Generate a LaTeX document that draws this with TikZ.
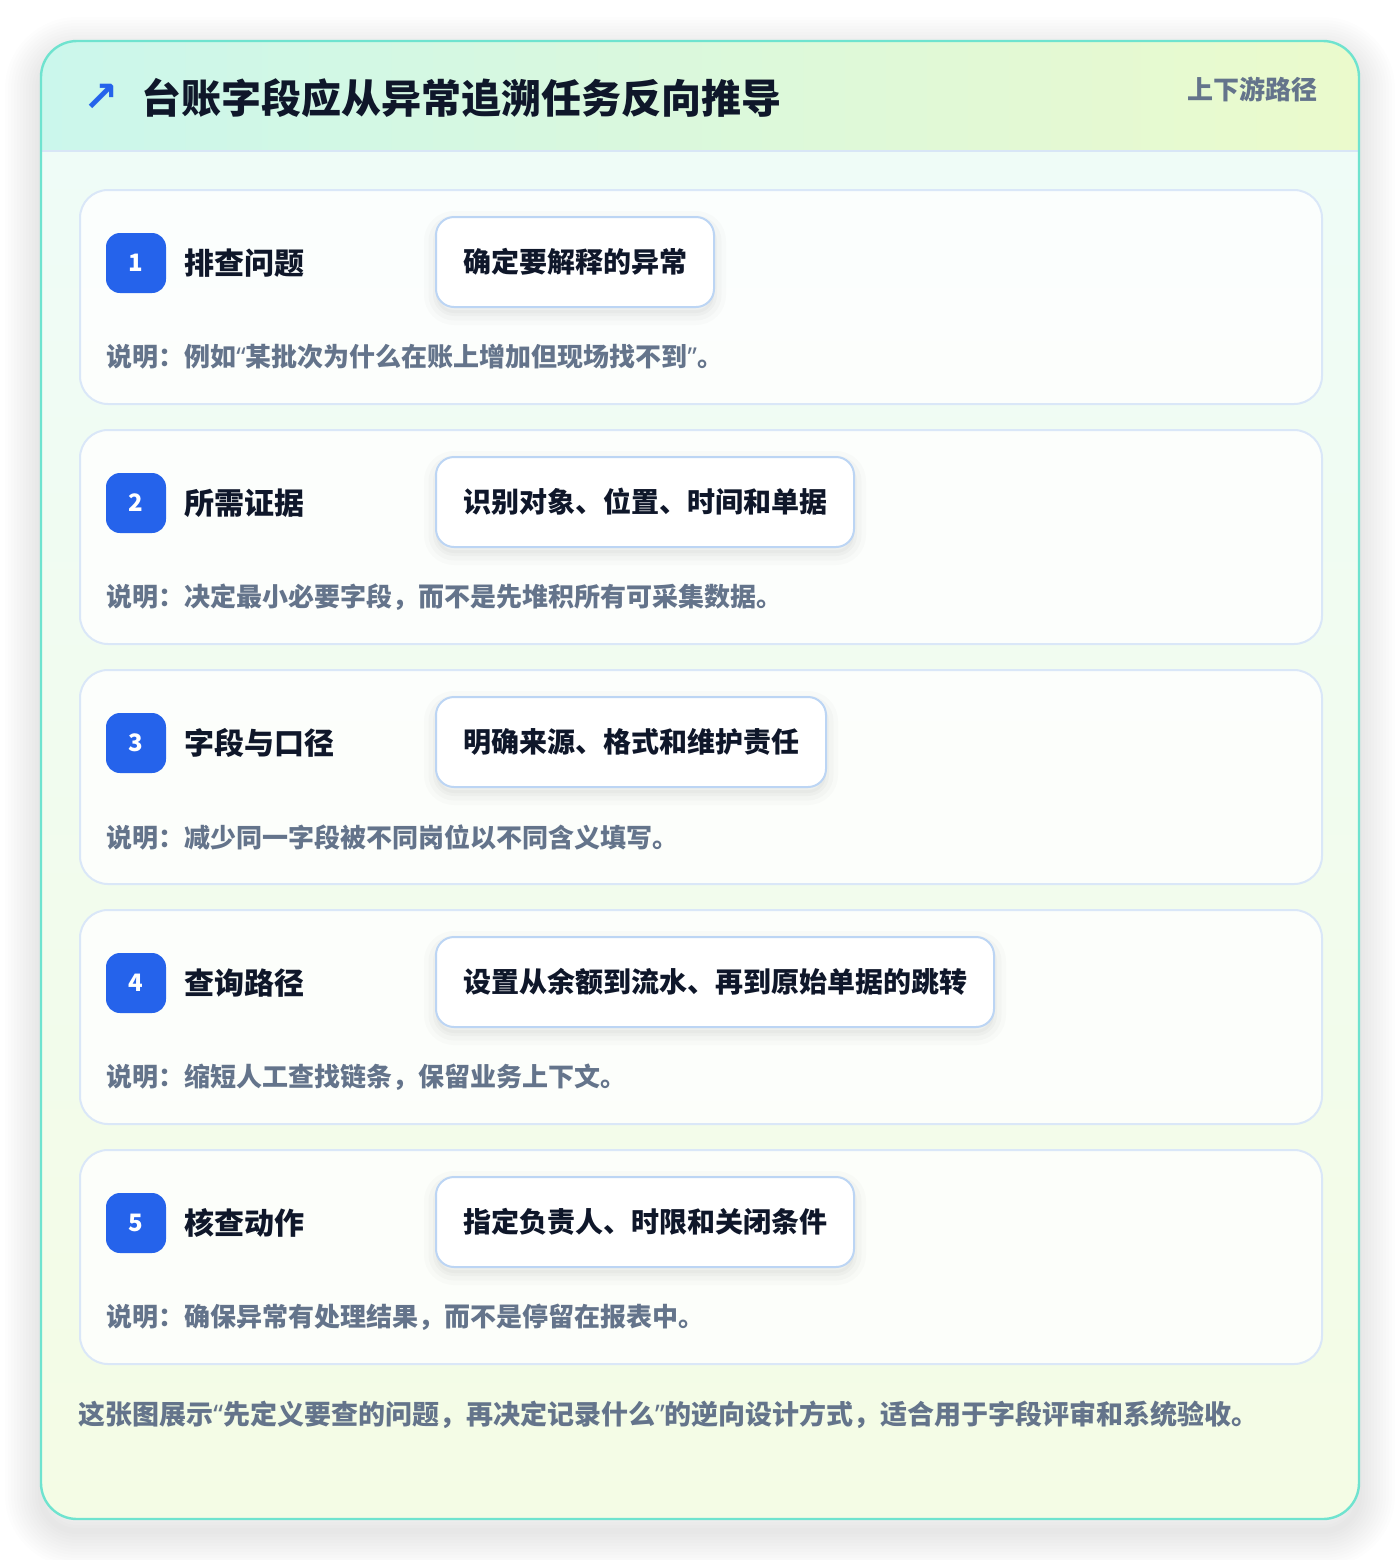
\documentclass[tikz,border=0pt]{standalone}
\usepackage{fontspec}
\setmainfont{Noto Sans CJK SC}
\newfontfamily\symfont{DejaVu Sans}
\newfontfamily\latin{Noto Sans}
\newcommand\oq{{\latin“}}
\newcommand\cq{{\latin”}}
\usetikzlibrary{positioning}

\definecolor{frameline}{HTML}{6FE3CF}
\definecolor{headl}{HTML}{CBF7EC}
\definecolor{headr}{HTML}{EBFACC}
\definecolor{bodyt}{HTML}{EFFCF7}
\definecolor{bodyb}{HTML}{F4FCE5}
\definecolor{sepline}{HTML}{D8E6F6}
\definecolor{cardline}{HTML}{DAE7F8}
\definecolor{tagline}{HTML}{BCD5F4}
\definecolor{badgeblue}{HTML}{2563EB}
\definecolor{ink}{HTML}{0F172A}
\definecolor{muted}{HTML}{64748B}

\tikzset{
  softshadow/.style={
    preaction={draw=black, opacity=0.015, line width=#1*4, transform canvas={yshift=-#1}},
    preaction={draw=black, opacity=0.02, line width=#1*2.5, transform canvas={yshift=-#1}},
    preaction={draw=black, fill=black, opacity=0.025, line width=#1, transform canvas={yshift=-#1}}},
  card/.style={draw=cardline, line width=1pt, fill=white, fill opacity=0.8,
    rounded corners=14pt, anchor=north west, minimum width=621pt, minimum height=107pt, inner sep=0pt},
  badge/.style={fill=badgeblue, rounded corners=7pt, minimum size=30pt, inner sep=0pt,
    text=white, font=\bfseries\fontsize{12}{12}\selectfont},
  steptitle/.style={anchor=west, inner sep=0pt, text=ink, font=\bfseries\fontsize{15}{15}\selectfont},
  tagbox/.style={softshadow=3pt, draw=tagline, line width=1pt, fill=white, rounded corners=9pt, anchor=west,
    minimum height=45pt, inner xsep=13.5pt, text=ink, font=\bfseries\fontsize{14}{14}\selectfont},
  note/.style={anchor=west, inner sep=0pt, text=muted, font=\bfseries\fontsize{13}{13}\selectfont}
}

\begin{document}
\begin{tikzpicture}[x=0.5pt, y=-0.5pt]
  \useasboundingbox[fill=white] (0,0) rectangle (1400,1560);
  % outer frame
  \foreach \w in {3,6,...,36}
    \draw[black, opacity=0.007, line width=\w pt, rounded corners=18pt] (41,53) rectangle (1359,1531);
  \fill[white, rounded corners=18pt] (41,41) rectangle (1359,1519);
  \begin{scope}
    \clip[rounded corners=18pt] (41,41) rectangle (1359,1519);
    \fill[left color=headl, right color=headr] (41,41) rectangle (1359,151);
    \fill[top color=bodyt, bottom color=bodyb] (41,151) rectangle (1359,1519);
  \end{scope}
  \draw[sepline, line width=1pt] (41,151) -- (1359,151);
  \draw[frameline, line width=1.2pt, rounded corners=18pt] (41,41) rectangle (1359,1519);

  %header
  \node[text=badgeblue, font=\symfont\bfseries\fontsize{21}{21}\selectfont, inner sep=0pt] (icon) at (101,98) {↗};
  \node[anchor=west, inner sep=0pt, text=ink, font=\bfseries\fontsize{20}{20}\selectfont] (title) at (141,98) {台账字段应从异常追溯任务反向推导};
  \node[anchor=east, inner sep=0pt, text=muted, font=\bfseries\fontsize{13}{13}\selectfont] (kind) at (1318,89) {上下游路径};

  %steps
  \foreach \n/\head/\tagtext/\desc [count=\i from 0] in {
      1/排查问题/确定要解释的异常/{说明：例如\oq 某批次为什么在账上增加但现场找不到\cq。},
      2/所需证据/识别对象、位置、时间和单据/{说明：决定最小必要字段，而不是先堆积所有可采集数据。},
      3/字段与口径/明确来源、格式和维护责任/{说明：减少同一字段被不同岗位以不同含义填写。},
      4/查询路径/设置从余额到流水、再到原始单据的跳转/{说明：缩短人工查找链条，保留业务上下文。},
      5/核查动作/指定负责人、时限和关闭条件/{说明：确保异常有处理结果，而不是停留在报表中。}} {
    \pgfmathsetmacro\top{189+240*\i}
    \node[card] (card\n) at (79,\top) {};
    \node[badge] (badge\n) at (136,\top+74) {\n};
    \node[steptitle] (head\n) at (184,\top+74) {\head};
    \node[tagbox] (tag\n) at (435,\top+73) {\tagtext};
    \node[note] (note\n) at (106,\top+168) {\desc};
  }

  %footer
  \node[anchor=west, inner sep=0pt, text=muted, font=\bfseries\fontsize{13.5}{13.5}\selectfont] (footer) at (78,1415)
    {这张图展示\oq 先定义要查的问题，再决定记录什么\cq 的逆向设计方式，适合用于字段评审和系统验收。};
\end{tikzpicture}
\end{document}
